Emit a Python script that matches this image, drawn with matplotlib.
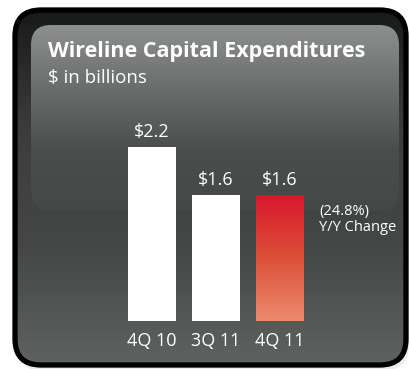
import numpy as np
import matplotlib.pyplot as plt
from matplotlib.patches import FancyBboxPatch
from matplotlib.colors import LinearSegmentedColormap

quarters = ['4Q 10', '3Q 11', '4Q 11']
capex = [2.2, 1.6, 1.6]
value_labels = ['$2.2', '$1.6', '$1.6']
change_note = '(24.8%)\nY/Y Change'

plt.rcParams['font.family'] = ['Open Sans', 'DejaVu Sans']

W, H = 409, 369
fig = plt.figure(figsize=(W / 100, H / 100), dpi=100)

# background drawn in pixel coordinates
bg = fig.add_axes([0, 0, 1, 1])
bg.set_xlim(0, W)
bg.set_ylim(H, 0)
bg.axis('off')

def vgrad(ax, x0, y0, x1, y1, colors, clip, z):
    cmap = LinearSegmentedColormap.from_list('g', colors)
    grad = np.linspace(0, 1, 256).reshape(-1, 1)
    im = ax.imshow(grad, cmap=cmap, aspect='auto', extent=(x0, x1, y1, y0),
                   zorder=z, interpolation='bicubic')
    im.set_clip_path(clip)
    return im

# soft shadow
shadow = FancyBboxPatch((17, 13), 392, 358, boxstyle='round,pad=0,rounding_size=26',
                        fc='#e2e2e2', ec='none', zorder=0, alpha=0.6)
bg.add_patch(shadow)

outer = FancyBboxPatch((15, 10), 391, 355, boxstyle='round,pad=0,rounding_size=26',
                       fc='none', ec='black', lw=3.8, zorder=3)
bg.add_patch(outer)
outer_clip = FancyBboxPatch((15, 10), 391, 355, boxstyle='round,pad=0,rounding_size=26',
                            fc='none', ec='none')
bg.add_patch(outer_clip)
vgrad(bg, 15, 10, 406, 365, ['#181a19', '#3a3d3b', '#444745', '#5e6260'],
      outer_clip, 1)

gloss = FancyBboxPatch((31, 25), 368, 186, boxstyle='round,pad=0,rounding_size=20',
                       fc='none', ec='none')
bg.add_patch(gloss)
vgrad(bg, 31, 25, 399, 211, ['#8e908f', '#6b6e6c', '#4b4e4c', '#454846'], gloss, 2)

bg.text(48, 57, 'Wireline Capital Expenditures', color='white', fontsize=15.5,
        fontweight='bold', va='baseline', ha='left', zorder=5)
bg.text(48, 83, '$ in billions', color='white', fontsize=13.5,
        va='baseline', ha='left', zorder=5)

# bars: y=0 at pixel 321, ~79 px per billion
ax = fig.add_axes([120 / W, (H - 321) / H, 192 / W, 237 / H])
ax.set_xlim(-0.5, 2.5)
ax.set_ylim(0, 3)
ax.axis('off')
ax.patch.set_alpha(0)

bars = ax.bar(range(3), capex, width=0.75, color=['white', 'white', 'none'],
              edgecolor='none', zorder=3)

red = LinearSegmentedColormap.from_list('red', ['#d8172f', '#dc4f38', '#ec8c6e'])
last = bars[2]
im = ax.imshow(np.linspace(0, 1, 256).reshape(-1, 1), cmap=red, aspect='auto',
               extent=(last.get_x(), last.get_x() + last.get_width(), 0, capex[2]),
               origin='upper', zorder=3)
im.set_clip_path(last)
ax.set_xlim(-0.5, 2.5)
ax.set_ylim(0, 3)

for i, (v, lab) in enumerate(zip(capex, value_labels)):
    ax.annotate(lab, (i, v), xytext=(0, 7), textcoords='offset points',
                ha='center', va='baseline', color='white', fontsize=13)
    ax.annotate(quarters[i], (i, 0), xytext=(0, -18), textcoords='offset points',
                ha='center', va='baseline', color='white', fontsize=13)

ax.annotate(change_note, (2.375, capex[2]), xytext=(11, -26), textcoords='offset points',
            ha='left', va='baseline', color='white', fontsize=10.5, linespacing=1.05)

fig.savefig('out.png', dpi=100)
